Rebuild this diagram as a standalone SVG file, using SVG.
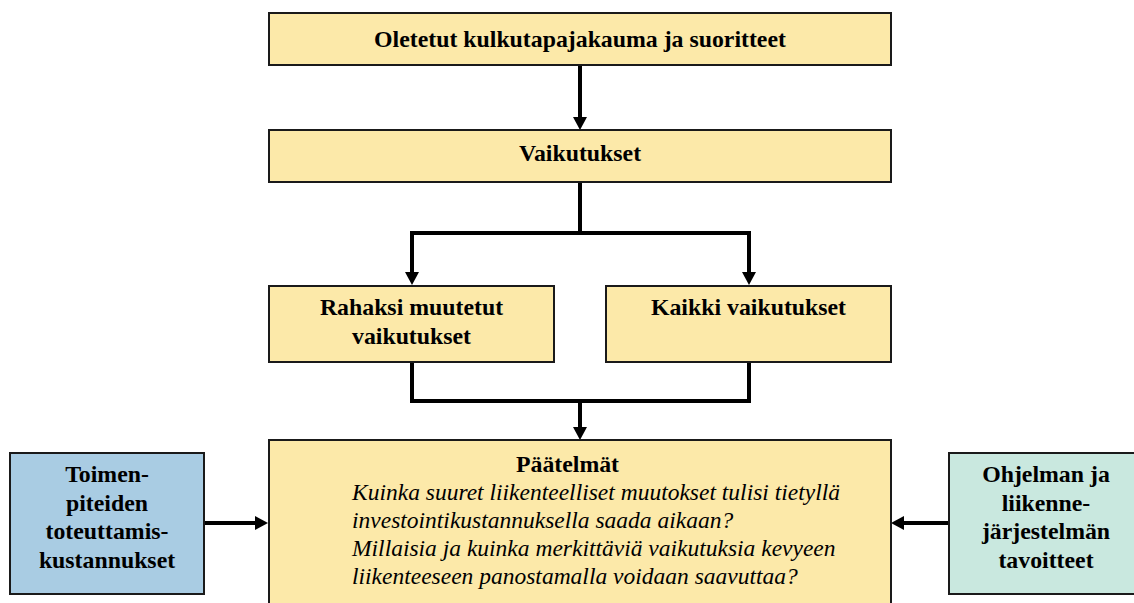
<svg xmlns="http://www.w3.org/2000/svg" width="1134" height="603" viewBox="0 0 1134 603">
<style>
.box{stroke:#1a1a1a;stroke-width:2}
.y{fill:#FCE9A9}
.b{fill:#A9CCE3}
.g{fill:#C9E8DF}
.t{font-family:'Liberation Serif','Tinos','DejaVu Serif',serif;font-size:23.8px;font-weight:bold;fill:#000;text-anchor:middle}
.i{font-family:'Liberation Serif','Tinos','DejaVu Serif',serif;font-size:23.5px;font-style:italic;fill:#000}
.c{fill:none;stroke:#000;stroke-width:4}
</style>
<defs>
<marker id="ah" viewBox="0 0 13 14" markerWidth="13" markerHeight="14" refX="0" refY="7" orient="auto" markerUnits="userSpaceOnUse">
<path d="M0,0 L13,7 L0,14 z" fill="#000"/>
</marker>
</defs>
<rect width="1134" height="603" fill="#fff"/>
<g id="connectors">
<path class="c" d="M580 65 V117" marker-end="url(#ah)"/>
<path class="c" d="M580 182 V233 H412 V272" marker-end="url(#ah)"/>
<path class="c" d="M580 233 H749 V272" marker-end="url(#ah)"/>
<path class="c" d="M412 362 V401 H749 V362"/>
<path class="c" d="M580 401 V427" marker-end="url(#ah)"/>
<path class="c" d="M204 523 H255" marker-end="url(#ah)"/>
<path class="c" d="M949 523 H904" marker-end="url(#ah)"/>
</g>
<g id="n-oletetut">
<rect class="box y" x="269" y="13" width="622" height="52"/>
<text class="t" x="580" y="47">Oletetut kulkutapajakauma ja suoritteet</text>
</g>
<g id="n-vaikutukset">
<rect class="box y" x="269" y="130" width="622" height="52"/>
<text class="t" x="580" y="161">Vaikutukset</text>
</g>
<g id="n-rahaksi">
<rect class="box y" x="269" y="286" width="285" height="76"/>
<text class="t" x="411.5" y="315">Rahaksi muutetut</text>
<text class="t" x="411.5" y="344">vaikutukset</text>
</g>
<g id="n-kaikki">
<rect class="box y" x="606" y="286" width="285" height="76"/>
<text class="t" x="748.5" y="315">Kaikki vaikutukset</text>
</g>
<g id="n-paatelmat">
<rect class="box y" x="269" y="440" width="622" height="175"/>
<text class="t" x="567.5" y="472">Päätelmät</text>
<text class="i" x="352" y="500">Kuinka suuret liikenteelliset muutokset tulisi tietyllä</text>
<text class="i" x="352" y="528">investointikustannuksella saada aikaan?</text>
<text class="i" x="352" y="556">Millaisia ja kuinka merkittäviä vaikutuksia kevyeen</text>
<text class="i" x="352" y="584">liikenteeseen panostamalla voidaan saavuttaa?</text>
</g>
<g id="n-toimen">
<rect class="box b" x="10" y="453" width="194" height="141"/>
<text class="t" x="107" y="482">Toimen-</text>
<text class="t" x="107" y="510.5">piteiden</text>
<text class="t" x="107" y="539">toteuttamis-</text>
<text class="t" x="107" y="567.5">kustannukset</text>
</g>
<g id="n-ohjelman">
<rect class="box g" x="949" y="453" width="194" height="141"/>
<text class="t" x="1046" y="482">Ohjelman ja</text>
<text class="t" x="1046" y="510.5">liikenne-</text>
<text class="t" x="1046" y="539">järjestelmän</text>
<text class="t" x="1046" y="567.5">tavoitteet</text>
</g>
</svg>
